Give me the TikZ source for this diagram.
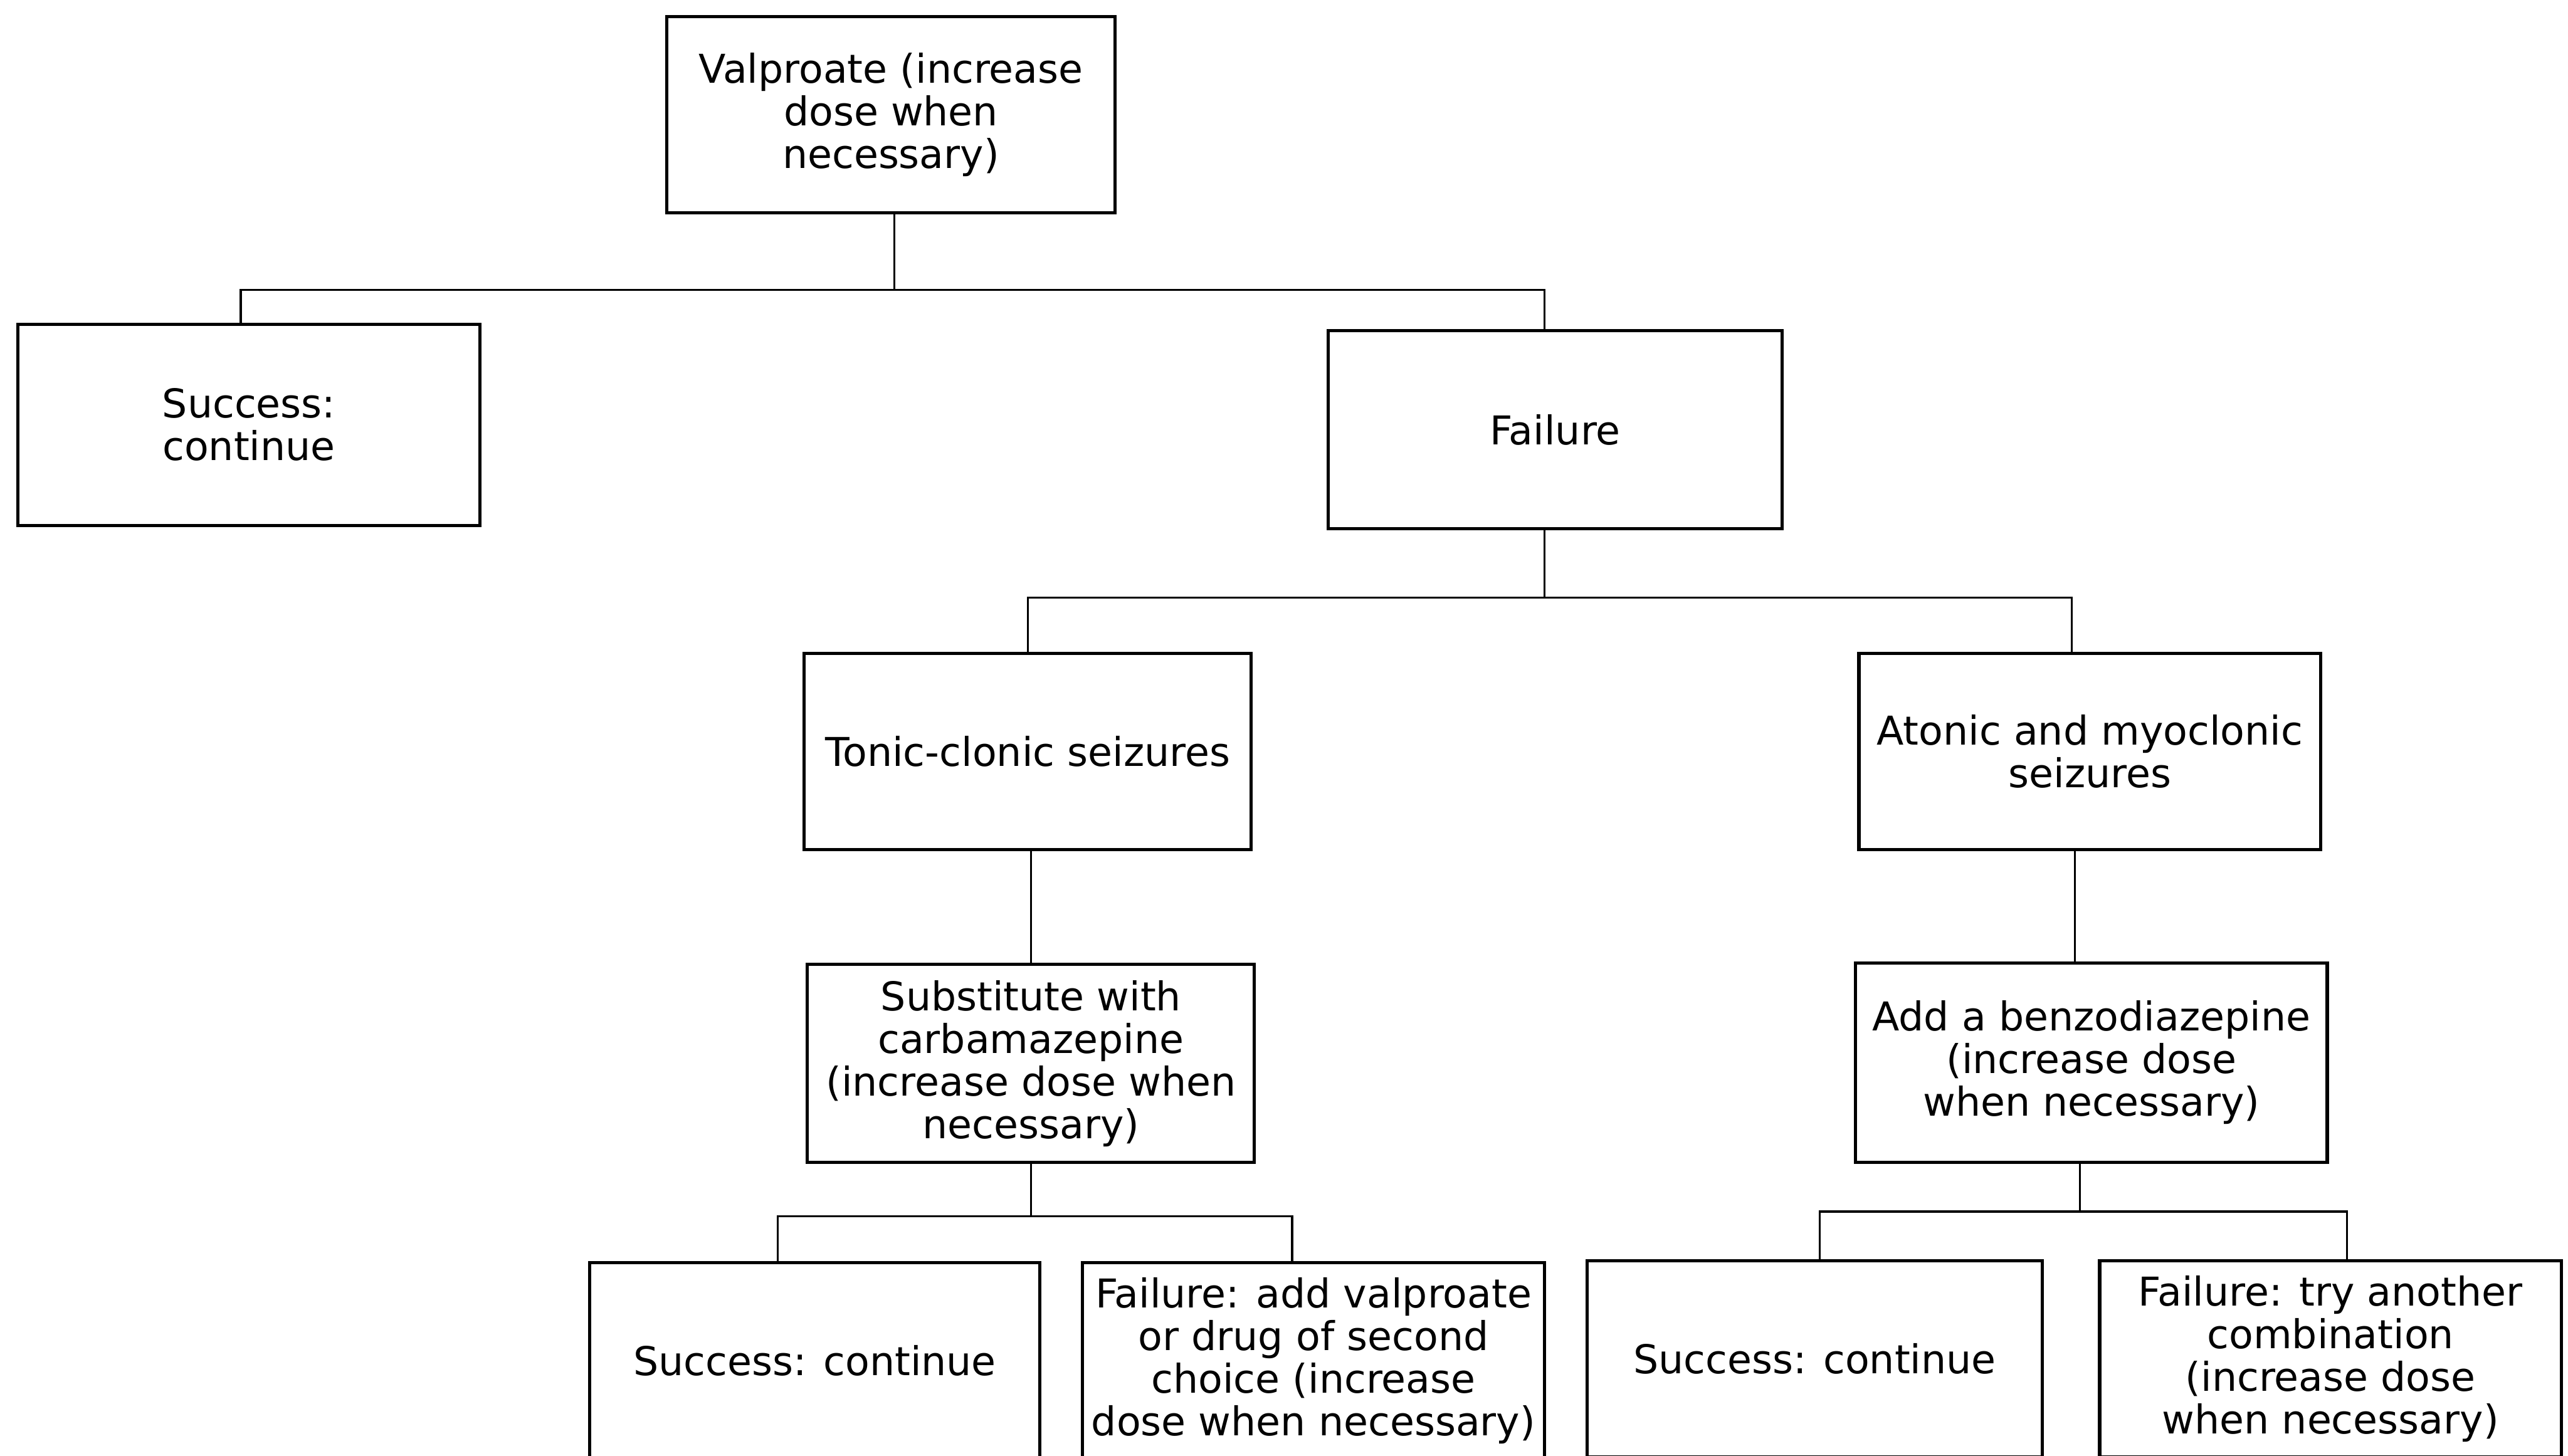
\documentclass[tikz,border=0pt]{standalone}
\usepackage{fontspec}
\setmainfont{DejaVu Sans}
\begin{document}
\begin{tikzpicture}[x=0.02cm,y=-0.02cm,
  box/.style={draw,line width=1.1pt,align=center,inner sep=0pt,font=\fontsize{13.8}{14.8}\selectfont},
  link/.style={line width=0.7pt}]
\useasboundingbox (0,0) rectangle (1568,889);
\fill[white] (0,0) rectangle (1568,889);
\clip (0,0) rectangle (1568,889);

\node[box,minimum width=5.48cm,minimum height=2.40cm] (val) at (544,70) {Valproate (increase\\dose when\\necessary)};
\node[box,minimum width=5.64cm,minimum height=2.46cm] (s1) at (152,259.5) {Success:\\continue};
\node[box,minimum width=5.54cm,minimum height=2.42cm] (f1) at (949.5,262.5) {Failure};
\node[box,minimum width=5.46cm,minimum height=2.40cm] (tc) at (627.5,459) {Tonic-clonic seizures};
\node[box,minimum width=5.64cm,minimum height=2.40cm] (at) at (1276,459) {Atonic and myoclonic\\seizures};
\node[box,minimum width=5.46cm,minimum height=2.42cm] (sub) at (629.5,649.5) {Substitute with\\carbamazepine\\(increase dose when\\necessary)};
\node[box,minimum width=5.76cm,minimum height=2.44cm] (add) at (1277,649) {Add a benzodiazepine\\(increase dose\\when necessary)};
\node[box,minimum width=5.50cm,minimum height=2.40cm] (s2) at (497.5,831) {Success: continue};
\node[box,minimum width=5.64cm,minimum height=2.40cm] (f2) at (802,831) {Failure: add valproate\\or drug of second\\choice (increase\\dose when necessary)};
\node[box,minimum width=5.56cm,minimum height=2.40cm] (s3) at (1108,830) {Success: continue};
\node[box,minimum width=5.64cm,minimum height=2.40cm] (f3) at (1423,830) {Failure: try another\\combination\\(increase dose\\when necessary)};

\draw[link] ([xshift=0.04cm]val.south) -- ++(0,46) coordinate (j1);
\draw[link] ([xshift=-0.1cm]s1.north) |- (j1) -| ([xshift=-0.13cm]f1.north);
\draw[link] ([xshift=-0.13cm]f1.south) -- ++(0,41) coordinate (j2);
\draw[link] (tc.north) |- (j2) -| ([xshift=-0.22cm]at.north);
\draw[link] ([xshift=0.04cm]tc.south) -- ([xshift=0.04cm]tc.south |- sub.north);
\draw[link] ([xshift=-0.18cm]at.south) -- ([xshift=-0.18cm]at.south |- add.north);
\draw[link] (sub.south) -- ++(0,32) coordinate (j3);
\draw[link] ([xshift=-0.45cm]s2.north) |- (j3) -| ([xshift=-0.26cm]f2.north);
\draw[link] ([xshift=-0.14cm]add.south) -- ++(0,29) coordinate (j4);
\draw[link] ([xshift=0.06cm]s3.north) |- (j4) -| ([xshift=0.2cm]f3.north);
\end{tikzpicture}
\end{document}
